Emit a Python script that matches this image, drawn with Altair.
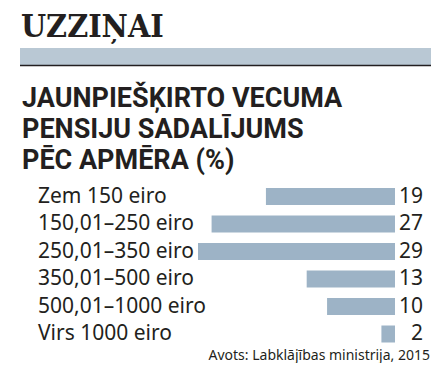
import altair as alt
import pandas as pd

# ---- data ----
categories = [
    "Zem 150 eiro",
    "150,01–250 eiro",
    "250,01–350 eiro",
    "350,01–500 eiro",
    "500,01–1000 eiro",
    "Virs 1000 eiro",
]
values = [19, 27, 29, 13, 10, 2]

section_label = "UZZIŅAI"
title_lines = ["JAUNPIEŠĶIRTO VECUMA", "PENSIJU SADALĪJUMS", "PĒC APMĒRA (%)"]
source_text = "Avots: Labklājības ministrija, 2015"

INK = "#231f20"
BAR = "#9db3c6"
BAND = "#b9c8d4"

df = pd.DataFrame({"cat": categories, "val": values, "idx": list(range(len(categories)))})
one = alt.Data(values=[{}])

x_scale = alt.Scale(domain=[0, 29], range=[387, 190])
y_scale = alt.Scale(domain=[0, 5], range=[183.5, 331])

base = alt.Chart(df)

bars = base.mark_bar(size=17, color=BAR, orient="horizontal").encode(
    x=alt.X("val:Q", scale=x_scale, axis=None),
    x2=alt.datum(0),
    y=alt.Y("idx:Q", scale=y_scale, axis=None),
)

cat_labels = base.mark_text(
    align="left", baseline="middle", font="Noto Sans", fontSize=21, color=INK
).encode(
    x=alt.value(30),
    y=alt.Y("idx:Q", scale=y_scale, axis=None),
    text="cat:N",
)

val_labels = base.mark_text(
    align="right", baseline="middle", font="Noto Sans", fontSize=21, color=INK
).encode(
    x=alt.value(415),
    y=alt.Y("idx:Q", scale=y_scale, axis=None),
    text="val:Q",
)

band = alt.Chart(one).mark_rect(color=BAND).encode(
    x=alt.value(12), x2=alt.value(423), y=alt.value(40), y2=alt.value(57)
)
rule = alt.Chart(one).mark_rule(color=INK, strokeWidth=1.5).encode(
    x=alt.value(12), x2=alt.value(423), y=alt.value(57.5)
)

section = alt.Chart(one).mark_text(
    text=section_label, align="left", baseline="alphabetic",
    font="DejaVu Serif Condensed, DejaVu Serif", fontWeight="bold", fontSize=32, color=INK,
).encode(x=alt.value(13), y=alt.value(29))

title_marks = []
for i, line in enumerate(title_lines):
    title_marks.append(
        alt.Chart(one).mark_text(
            text=line, align="left", baseline="alphabetic",
            font="Liberation Sans Narrow, Roboto", fontWeight="bold", fontSize=27, color=INK,
        ).encode(x=alt.value(14), y=alt.value(99 + 31 * i))
    )

source = alt.Chart(one).mark_text(
    text=source_text, align="right", baseline="alphabetic",
    font="Noto Sans", fontSize=14, color=INK,
).encode(x=alt.value(422), y=alt.value(352))

chart = alt.layer(
    band, rule, section, *title_marks, bars, cat_labels, val_labels, source
).properties(
    width=427, height=355, autosize="none", padding=0, background="white"
).configure_view(stroke=None)

chart.save("out.html", embed_options={"renderer": "svg", "actions": False})
